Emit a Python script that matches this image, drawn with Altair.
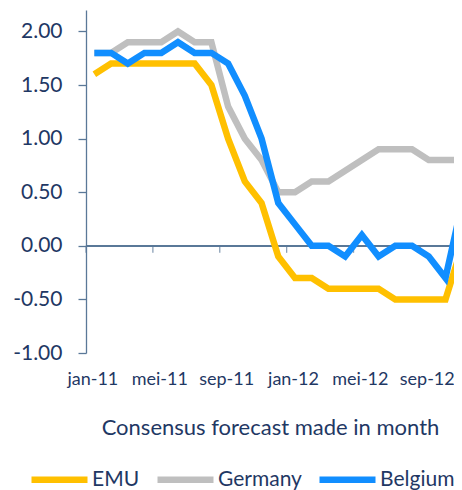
import altair as alt
import pandas as pd

months = ["jan-11", "feb-11", "mrt-11", "apr-11", "mei-11", "jun-11", "jul-11", "aug-11",
          "sep-11", "okt-11", "nov-11", "dec-11", "jan-12", "feb-12", "mrt-12", "apr-12",
          "mei-12", "jun-12", "jul-12", "aug-12", "sep-12", "okt-12", "nov-12"]
emu = [1.6, 1.7, 1.7, 1.7, 1.7, 1.7, 1.7, 1.5, 1.0, 0.6, 0.4, -0.1, -0.3, -0.3, -0.4, -0.4,
       -0.4, -0.4, -0.5, -0.5, -0.5, -0.5, 0.0]
germany = [1.8, 1.8, 1.9, 1.9, 1.9, 2.0, 1.9, 1.9, 1.3, 1.0, 0.8, 0.5, 0.5, 0.6, 0.6, 0.7,
           0.8, 0.9, 0.9, 0.9, 0.8, 0.8, 0.8]
belgium = [1.8, 1.8, 1.7, 1.8, 1.8, 1.9, 1.8, 1.8, 1.7, 1.4, 1.0, 0.4, 0.2, 0.0, 0.0, -0.1,
           0.1, -0.1, 0.0, 0.0, -0.1, -0.3, 0.4]
series_names = ["EMU", "Germany", "Belgium"]
series_colors = ["#FFC000", "#BFBFBF", "#118EFF"]
y_ticks = [-1.0, -0.5, 0.0, 0.5, 1.0, 1.5, 2.0]
label_idx = [0, 4, 8, 12, 16, 20]
tick_bounds = [-0.5, 3.5, 7.5, 11.5, 15.5, 19.5]
x_title = "Consensus forecast made in month"

rows = []
for name, vals in zip(series_names, [emu, germany, belgium]):
    for i, v in enumerate(vals):
        rows.append({"i": i, "month": months[i], "series": name, "value": v})
df = pd.DataFrame(rows)
bounds_df = pd.DataFrame({"b": tick_bounds})

label_expr = "''"
for idx in reversed(label_idx):
    label_expr = f"datum.value == {idx} ? '{months[idx]}' : ({label_expr})"

FONT = "Lato"
TXT = "#1F3864"
AX = "#5A7898"

xscale = alt.Scale(domain=[-0.5, 21.51], nice=False, zero=False)
yscale = alt.Scale(domain=[-1.0, 2.2], nice=False, zero=False)
cscale = alt.Scale(domain=series_names, range=series_colors)

x_axis = alt.Axis(
    values=label_idx,
    labelExpr=label_expr,
    ticks=False, tickSize=0, domain=False, grid=False,
    labelPadding=17, labelFontSize=18, labelFont=FONT, labelColor=TXT, labelOffset=-2,
    title=x_title, titleFont=FONT, titleFontSize=22, titleFontWeight="normal",
    titleColor=TXT, titlePadding=29,
    labelFlush=False, labelOverlap=False,
)
y_axis = alt.Axis(
    values=y_ticks,
    labelExpr="datum.value < 0 ? '-' + format(-datum.value, '.2f') : format(datum.value, '.2f')",
    domainColor=AX, domainWidth=1.3, tickColor=AX, tickWidth=1.3, tickSize=8,
    labelPadding=16, labelFontSize=21, labelFont=FONT, labelColor=TXT,
    grid=False, title=None,
)
legend = alt.Legend(
    title=None, orient="none", direction="horizontal", legendX=-58, legendY=438,
    symbolType="stroke", symbolSize=3136, symbolStrokeWidth=6.5,
    labelFont=FONT, labelFontSize=21, labelColor=TXT, labelOffset=1,
    columnPadding=4, padding=0,
)

X = alt.X("i:Q", scale=xscale, axis=x_axis)
Y = alt.Y("value:Q", scale=yscale, axis=y_axis)

zero_line = alt.Chart(df).mark_rule(color=AX, strokeWidth=1.3).encode(
    y=alt.Y("zero:Q", scale=yscale, axis=y_axis)
).transform_calculate(zero="0")
ticks = alt.Chart(bounds_df).mark_tick(
    orient="vertical", size=7, thickness=1.3, color=AX, yOffset=3.5
).encode(
    x=alt.X("b:Q", scale=xscale, axis=x_axis),
    y=alt.Y("zero:Q", scale=yscale, axis=y_axis),
).transform_calculate(zero="0")

line_layers = []
for name in series_names:
    line_layers.append(
        alt.Chart(df).transform_filter(alt.datum.series == name).mark_line(
            strokeWidth=6.5, strokeJoin="miter", strokeCap="butt", clip=True
        ).encode(
            x=X,
            y=Y,
            color=alt.Color("series:N", scale=cscale, legend=legend),
        )
    )

chart = alt.layer(zero_line, ticks, *line_layers).properties(
    width=368,
    height=343,
    autosize=alt.AutoSizeParams(type="none"),
    padding={"left": 78, "top": 2, "right": 0, "bottom": 137},
).configure_view(stroke=None)

chart.save("out.html", embed_options={"renderer": "svg", "actions": False})
